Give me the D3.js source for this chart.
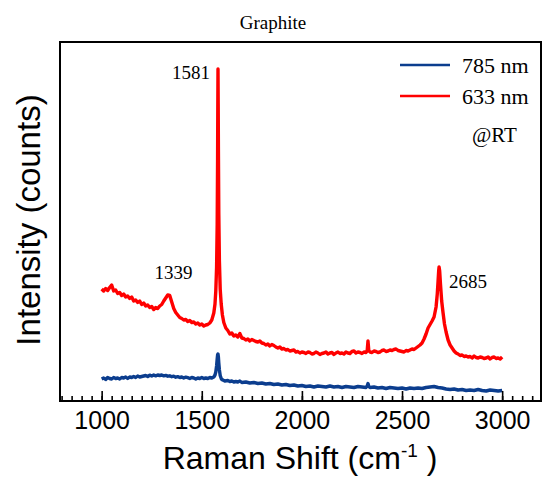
<!DOCTYPE html>
<html lang="en">
<head>
    <meta charset="UTF-8">
    <title>Graphite Raman</title>
    <script src="https://d3js.org/d3.v7.min.js"></script>
    <style>
        body {
            margin: 0;
            background: #fff;
        }
        .serif {
            font-family: "Liberation Serif", "Times New Roman", serif;
            fill: #000;
        }
        .sans {
            font-family: "Liberation Sans", Arial, Helvetica, sans-serif;
            fill: #000;
        }
        .line {
            fill: none;
            stroke-linejoin: round;
        }
    </style>
</head>
<body>
    <div id="chart"></div>
    <script>
        var width = 544,
            height = 479;

        // plot box (note: "top" is reserved on window, so prefix these)
        var boxLeft = 60, boxRight = 541, boxTop = 42, boxBottom = 401;

        // series: [Raman shift (cm-1), counts]
        var red633 = [
            [1000,1120],[1010,1100],[1020,1125],[1030,1105],[1040,1135],[1050,1160],[1060,1100],[1070,1110],
            [1080,1075],[1090,1085],[1100,1055],[1110,1070],[1120,1040],[1130,1050],[1140,1025],[1150,1040],
            [1160,1000],[1170,1010],[1180,985],[1190,1000],[1200,965],[1210,980],[1220,950],[1230,960],
            [1240,935],[1250,945],[1260,915],[1270,935],[1280,925],[1290,950],[1300,965],[1310,1000],
            [1320,1030],[1330,1060],[1340,1055],[1350,990],[1360,925],[1370,885],[1380,860],[1390,835],
            [1400,825],[1410,810],[1420,815],[1430,795],[1440,805],[1450,785],[1460,790],[1470,770],
            [1480,780],[1490,760],[1500,770],[1510,750],[1520,760],[1530,765],[1540,780],[1550,810],
            [1560,880],[1566,970],[1570,1100],[1574,1340],[1577,1770],[1579,2420],[1580,2920],[1581,3320],
            [1582,2970],[1583,2520],[1585,1870],[1588,1400],[1592,1120],[1597,970],[1603,860],[1610,785],
            [1620,730],[1630,705],[1640,670],[1650,680],[1660,650],[1670,660],[1680,640],[1690,675],
            [1700,630],[1710,625],[1720,610],[1730,620],[1740,600],[1750,615],[1760,605],[1770,595],
            [1780,590],[1790,600],[1800,580],[1810,575],[1820,560],[1830,570],[1840,550],[1850,565],
            [1860,555],[1870,540],[1880,530],[1890,540],[1900,520],[1910,525],[1920,510],[1930,515],
            [1940,500],[1950,505],[1960,510],[1970,490],[1980,495],[1990,480],[2000,490],[2010,485],
            [2020,475],[2030,490],[2040,485],[2050,470],[2060,475],[2070,490],[2080,480],[2090,465],
            [2100,475],[2110,480],[2120,490],[2130,470],[2140,480],[2150,485],[2160,465],[2170,480],
            [2180,490],[2190,475],[2200,480],[2210,470],[2220,490],[2230,480],[2240,475],[2250,495],
            [2260,500],[2270,480],[2280,490],[2290,485],[2300,475],[2310,490],[2320,485],[2326,500],
            [2330,600],[2334,505],[2340,490],[2350,485],[2360,500],[2370,495],[2380,485],[2390,490],
            [2400,505],[2410,510],[2420,495],[2430,500],[2440,510],[2450,505],[2460,515],[2470,520],
            [2480,505],[2490,500],[2500,495],[2510,490],[2520,505],[2530,500],[2540,510],[2550,520],
            [2560,515],[2570,530],[2580,545],[2590,560],[2600,580],[2610,620],[2620,670],[2630,730],
            [2640,765],[2650,800],[2660,840],[2670,940],[2676,1070],[2680,1200],[2683,1300],[2685,1340],
            [2688,1300],[2692,1170],[2698,1000],[2705,880],[2712,770],[2720,690],[2730,610],[2740,560],
            [2750,530],[2760,500],[2770,480],[2780,470],[2790,455],[2800,460],[2810,445],[2820,450],
            [2830,440],[2840,445],[2850,430],[2860,450],[2870,435],[2880,430],[2890,440],[2900,435],
            [2910,425],[2920,430],[2930,440],[2940,420],[2950,435],[2960,440],[2970,425],[2980,430],
            [2990,420],[3000,440]
        ];

        var blue785 = [
            [1000,220],[1010,230],[1020,215],[1030,235],[1040,225],[1050,220],[1060,235],[1070,225],
            [1080,230],[1090,220],[1100,235],[1110,230],[1120,240],[1130,225],[1140,240],[1150,235],
            [1160,245],[1170,235],[1180,250],[1190,240],[1200,245],[1210,250],[1220,255],[1230,245],
            [1240,258],[1250,250],[1260,260],[1270,252],[1280,260],[1290,255],[1300,260],[1310,252],
            [1320,256],[1330,248],[1340,252],[1350,243],[1360,248],[1370,238],[1380,243],[1390,235],
            [1400,240],[1410,230],[1420,238],[1430,233],[1440,225],[1450,235],[1460,230],[1470,220],
            [1480,230],[1490,225],[1500,235],[1510,225],[1520,230],[1530,225],[1540,235],[1550,230],
            [1560,240],[1566,260],[1570,290],[1574,350],[1577,420],[1579,460],[1581,470],[1583,440],
            [1585,380],[1588,310],[1592,255],[1598,220],[1605,210],[1615,200],[1630,205],[1640,195],
            [1650,200],[1660,190],[1670,195],[1680,190],[1690,200],[1700,185],[1720,190],[1740,180],
            [1760,185],[1780,175],[1800,180],[1820,170],[1840,175],[1860,165],[1880,170],[1900,160],
            [1920,165],[1940,155],[1960,160],[1980,150],[2000,155],[2020,145],[2040,150],[2060,140],
            [2080,150],[2100,145],[2120,140],[2140,150],[2160,140],[2180,145],[2200,135],[2220,145],
            [2240,140],[2260,135],[2280,145],[2300,140],[2320,135],[2326,150],[2330,175],[2334,145],
            [2340,135],[2360,140],[2380,130],[2400,135],[2420,125],[2440,135],[2460,130],[2480,125],
            [2500,130],[2520,120],[2540,130],[2560,125],[2580,130],[2600,125],[2620,135],[2640,140],
            [2660,145],[2680,135],[2700,130],[2720,120],[2740,115],[2760,120],[2780,110],[2800,115],
            [2820,105],[2840,110],[2860,105],[2880,115],[2900,105],[2920,100],[2940,110],[2960,105],
            [2980,100],[3000,105]
        ];

        var majorTicks = [1000, 1500, 2000, 2500, 3000];
        var minorTicks = d3.range(800, 3200, 50);

        var peakLabels = [
            {shift: 1581, text: "1581"},
            {shift: 1339, text: "1339"},
            {shift: 2685, text: "2685"}
        ];

        var legendItems = [
            {label: "785 nm", color: "#0b3d8e"},
            {label: "633 nm", color: "#ff0000"}
        ];

        var x = d3.scaleLinear().domain([792, 3194]).range([boxLeft, boxRight]);
        var y = d3.scaleLinear().domain([0, 3590]).range([boxBottom, boxTop]);

        var svg = d3.select("#chart").append("svg")
            .attr("width", width)
            .attr("height", height);

        var line = d3.line()
            .x(function(d) { return x(d[0]); })
            .y(function(d) { return y(d[1]); });

        svg.append("path")
            .datum(blue785)
            .attr("class", "line")
            .attr("stroke", legendItems[0].color)
            .attr("stroke-width", 3.4)
            .attr("d", line);

        svg.append("path")
            .datum(red633)
            .attr("class", "line")
            .attr("stroke", legendItems[1].color)
            .attr("stroke-width", 3.4)
            .attr("d", line);

        // ticks point into the plot
        var minorAxis = svg.append("g")
            .attr("transform", "translate(0," + boxBottom + ")")
            .call(d3.axisBottom(x).tickValues(minorTicks).tickSize(-5).tickFormat(""));
        minorAxis.select(".domain").remove();
        minorAxis.selectAll("line").attr("stroke-width", 1.6);

        var majorAxis = svg.append("g")
            .attr("transform", "translate(0," + boxBottom + ")")
            .call(d3.axisBottom(x).tickValues(majorTicks).tickSize(-10).tickFormat(d3.format("d")));
        majorAxis.select(".domain").remove();
        majorAxis.selectAll("line").attr("stroke-width", 1.6);
        majorAxis.selectAll("text")
            .attr("class", "sans")
            .attr("y", 28)
            .attr("dy", 0)
            .style("font-size", "25px");

        // frame
        svg.append("rect")
            .attr("x", boxLeft)
            .attr("y", boxTop)
            .attr("width", boxRight - boxLeft)
            .attr("height", boxBottom - boxTop)
            .attr("fill", "none")
            .attr("stroke", "#000")
            .attr("stroke-width", 2);

        // axis titles
        var xTitle = svg.append("text")
            .attr("class", "sans")
            .attr("x", 300)
            .attr("y", 469)
            .attr("text-anchor", "middle")
            .style("font-size", "32px");
        xTitle.append("tspan").text("Raman Shift (cm");
        xTitle.append("tspan").attr("dy", -12).style("font-size", "19px").text("-1");
        xTitle.append("tspan").attr("dy", 12).text(" )");

        svg.append("text")
            .attr("class", "sans")
            .attr("transform", "translate(40,220) rotate(-90)")
            .attr("text-anchor", "middle")
            .style("font-size", "33px")
            .text("Intensity (counts)");

        svg.append("text")
            .attr("class", "serif")
            .attr("x", 273)
            .attr("y", 29)
            .attr("text-anchor", "middle")
            .style("font-size", "19px")
            .text("Graphite");

        // peak labels
        var peakPos = {
            "1581": {dx: -8, y: 79, anchor: "end"},
            "1339": {dx: 4, y: 279, anchor: "middle"},
            "2685": {dx: 10, y: 288, anchor: "start"}
        };
        svg.selectAll(".peak")
            .data(peakLabels)
            .enter().append("text")
            .attr("class", "serif peak")
            .attr("x", function(d) { return x(d.shift) + peakPos[d.text].dx; })
            .attr("y", function(d) { return peakPos[d.text].y; })
            .attr("text-anchor", function(d) { return peakPos[d.text].anchor; })
            .style("font-size", "19px")
            .text(function(d) { return d.text; });

        // legend
        var legend = svg.selectAll(".legend")
            .data(legendItems)
            .enter().append("g")
            .attr("class", "legend")
            .attr("transform", function(d, i) { return "translate(400," + (65 + i * 31) + ")"; });
        legend.append("line")
            .attr("x1", 0)
            .attr("x2", 50)
            .attr("stroke", function(d) { return d.color; })
            .attr("stroke-width", 2.4);
        legend.append("text")
            .attr("class", "serif")
            .attr("x", 62)
            .attr("y", 8)
            .style("font-size", "22px")
            .text(function(d) { return d.label; });

        svg.append("text")
            .attr("class", "serif")
            .attr("x", 472)
            .attr("y", 142)
            .style("font-size", "21px")
            .text("@RT");
    </script>
</body>
</html>
